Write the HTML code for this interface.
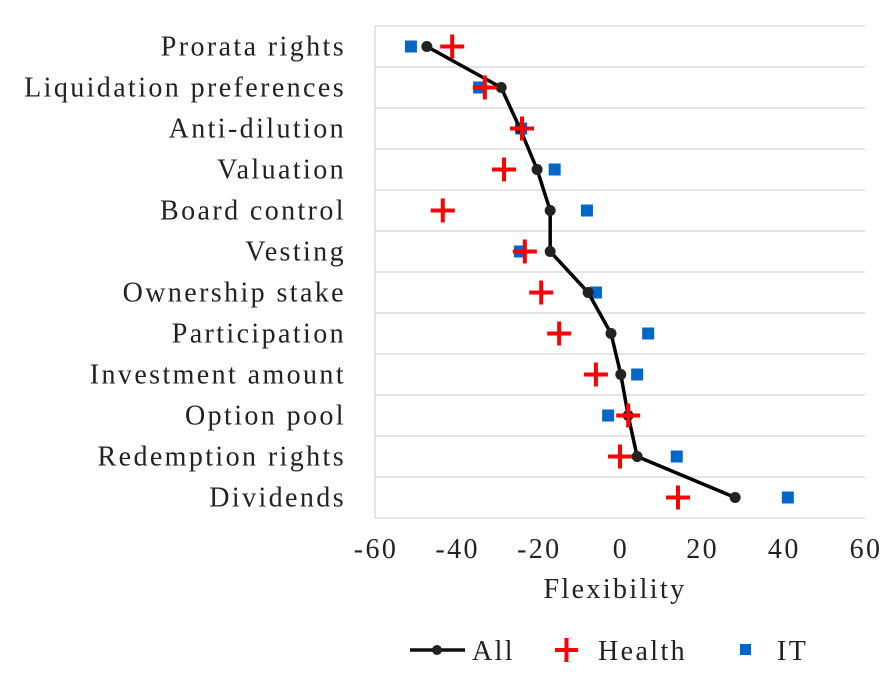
<!DOCTYPE html>
<html><head><meta charset="utf-8"><style>
body{margin:0;background:#fff;}
svg text{font-family:"Liberation Serif","DejaVu Serif",serif;fill:#222;letter-spacing:2.4px;}
</style></head><body>
<svg width="888" height="675" viewBox="0 0 888 675" xmlns="http://www.w3.org/2000/svg">
<g id="grid"></g>
<g id="ylabels"></g>
<g id="xlabels"></g>
<g id="series"></g>
<text x="615" y="598" font-size="28" text-anchor="middle">Flexibility</text>
<g>
  <g>
    <line x1="410" y1="650" x2="465" y2="650" stroke="#111" stroke-width="3.5"/>
    <circle cx="437" cy="650" r="5" fill="#222"/>
    <text x="472" y="660" font-size="28">All</text>
  </g>
  <g>
    <line x1="555" y1="650" x2="578" y2="650" stroke="#f00" stroke-width="4"/>
    <line x1="566.5" y1="638" x2="566.5" y2="662" stroke="#f00" stroke-width="4"/>
    <text x="598" y="660" font-size="28">Health</text>
  </g>
  <g>
    <rect x="740" y="644" width="11" height="11" fill="#0066c8"/>
    <text x="777" y="660" font-size="28">IT</text>
  </g>
</g>
</svg>
<script>
const categories=["Prorata rights","Liquidation preferences","Anti-dilution","Valuation","Board control","Vesting","Ownership stake","Participation","Investment amount","Option pool","Redemption rights","Dividends"];
const allValues=[-47.3,-29.1,-24.5,-20.3,-17.1,-17.1,-7.8,-2.2,0.2,2.0,4.2,28.2];
const healthValues=[-41.1,-33.1,-24.0,-28.4,-43.4,-23.3,-19.3,-14.9,-5.9,2.0,0.0,14.2];
const itValues=[-51.2,-34.5,-24.2,-16.0,-8.1,-24.5,-5.9,6.9,4.2,-2.9,13.9,41.1];
const xTicks=[-60,-40,-20,0,20,40,60];

const NS="http://www.w3.org/2000/svg";
const L=375,R=865,T=26,B=518,xmin=-60,xmax=60;
const xs=v=>L+(v-xmin)/(xmax-xmin)*(R-L);
const step=(B-T)/categories.length;
const ys=i=>T+step*(i+0.5);
function mk(tag,attrs,parent){const e=document.createElementNS(NS,tag);for(const k in attrs)e.setAttribute(k,attrs[k]);parent.appendChild(e);return e;}
const grid=document.getElementById('grid'),yl=document.getElementById('ylabels'),xl=document.getElementById('xlabels'),ser=document.getElementById('series');
for(let i=0;i<=categories.length;i++){
  const y=T+step*i;
  const g=mk('line',{x1:L,x2:R,y1:y,y2:y,stroke:'#dcdcdc','stroke-width':1.5},grid);
  
  
}
const ax=mk('line',{x1:L,x2:L,y1:T,y2:B,stroke:'#dcdcdc','stroke-width':1.5},grid);


categories.forEach((c,i)=>{
  const t=mk('text',{x:346,y:ys(i)+9,'font-size':28,'text-anchor':'end'},yl);
  t.textContent=c;
  
  
});
xTicks.forEach(v=>{
  const t=mk('text',{x:xs(v)+1,y:558,'font-size':28,'text-anchor':'middle'},xl);
  t.textContent=v;
  
  
});
itValues.forEach((v,i)=>{
  const r=mk('rect',{x:xs(v)-6,y:ys(i)-6,width:12,height:12,fill:'#0066c8'},ser);
  
  
});
const pl=mk('polyline',{points:allValues.map((v,i)=>xs(v)+','+ys(i)).join(' '),fill:'none',stroke:'#000','stroke-width':3.5,'stroke-linejoin':'round'},ser);


allValues.forEach((v,i)=>{
  const c=mk('circle',{cx:xs(v),cy:ys(i),r:5.5,fill:'#222'},ser);
  
  
});
healthValues.forEach((v,i)=>{
  const g=mk('g',{},ser);
  
  
  const x=xs(v),y=ys(i);
  mk('line',{x1:x-12,x2:x+12,y1:y,y2:y,stroke:'#f00','stroke-width':4},g);
  mk('line',{x1:x,x2:x,y1:y-12,y2:y+12,stroke:'#f00','stroke-width':4},g);
});
</script>
</body></html>
